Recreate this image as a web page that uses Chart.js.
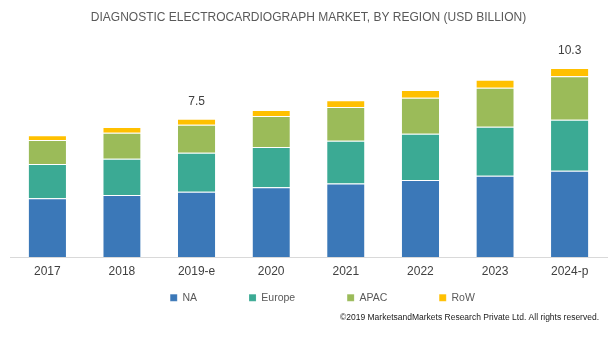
<!DOCTYPE html>
<html>
<head>
<meta charset="utf-8">
<script src="https://cdn.jsdelivr.net/npm/chart.js@4/dist/chart.umd.min.js"></script>
<style>
    html, body { margin: 0; padding: 0; background: #ffffff; }
    #wrap { width: 614px; height: 337px; }
</style>
</head>
<body>
<div id="wrap"><canvas id="market-chart" width="614" height="337"></canvas></div>
<script>
// Chart data (USD billion)
const categories = ['2017', '2018', '2019-e', '2020', '2021', '2022', '2023', '2024-p'];
const naValues = [3.18, 3.36, 3.54, 3.78, 3.98, 4.18, 4.41, 4.68];
const europeValues = [1.86, 1.97, 2.11, 2.19, 2.33, 2.51, 2.66, 2.77];
const apacValues = [1.30, 1.41, 1.52, 1.68, 1.83, 1.95, 2.11, 2.35];
const rowValues = [0.27, 0.31, 0.33, 0.33, 0.36, 0.42, 0.43, 0.45];
const totalLabels = ['', '', '7.5', '', '', '', '', '10.3'];

const chartTitle = 'DIAGNOSTIC ELECTROCARDIOGRAPH MARKET, BY REGION (USD BILLION)';
const copyrightText = '\u00a92019 MarketsandMarkets Research Private Ltd. All rights reserved.';

const fontFamily = '"Liberation Sans", Arial, sans-serif';

// Draws the totals above the stacks and the copyright line
const totalsPlugin = {
    id: 'totals',
    beforeLayout(chart) {
        // the wide label padding would also make the legend box tall, keep it short
        const legend = chart.legend;
        if (legend && !legend._shortFit) {
            const fit = legend.fit.bind(legend);
            legend.fit = function () {
                fit();
                this.height = 20;
            };
            legend._shortFit = true;
        }
    },
    afterLayout(chart) {
        // label padding also pushes the row down, pull it back up
        // (bottom is left low so the legend clip still covers the row)
        const legend = chart.legend;
        legend.top -= 46;
        legend.bottom = chart.height;
        legend.left += 14;
        legend.right += 14;
    },
    afterDraw(chart) {
        const ctx = chart.ctx;
        const yScale = chart.scales.y;
        const lastMeta = chart.getDatasetMeta(chart.data.datasets.length - 1);

        ctx.save();
        ctx.font = '12px ' + fontFamily;
        ctx.fillStyle = '#404040';
        ctx.textAlign = 'center';
        ctx.textBaseline = 'middle';
        totalLabels.forEach((label, i) => {
            if (!label) return;
            const total = naValues[i] + europeValues[i] + apacValues[i] + rowValues[i];
            const x = lastMeta.data[i].x;
            ctx.fillText(label, x, yScale.getPixelForValue(total) - 17.5);
        });

        // copyright note, bottom right
        ctx.font = '8.5px ' + fontFamily;
        ctx.fillStyle = '#1a1a1a';
        ctx.textAlign = 'right';
        ctx.fillText(copyrightText, 599, 318);
        ctx.restore();
    }
};

function makeDataset(label, values, color) {
    return {
        label: label,
        data: values,
        backgroundColor: color,
        borderColor: 'rgba(255, 255, 255, 0.45)',
        borderWidth: { top: 1, left: 0, right: 0, bottom: 0 },
        borderSkipped: false,
        categoryPercentage: 1.0,
        barPercentage: 0.5
    };
}

const ctx = document.getElementById('market-chart').getContext('2d');

const marketChart = new Chart(ctx, {
    type: 'bar',
    data: {
        labels: categories,
        datasets: [
            makeDataset('NA', naValues, '#3b78b8'),
            makeDataset('Europe', europeValues, '#3baa94'),
            makeDataset('APAC', apacValues, '#9bbb59'),
            makeDataset('RoW', rowValues, '#ffc000')
        ]
    },
    options: {
        responsive: false,
        animation: false,
        devicePixelRatio: 1,
        layout: {
            padding: { left: 10, right: 7, top: 0, bottom: 30.6 }
        },
        plugins: {
            title: {
                display: true,
                text: chartTitle,
                color: '#595959',
                font: { family: fontFamily, size: 12, weight: 'normal' },
                padding: { top: 10, bottom: 29.8 }
            },
            legend: {
                display: true,
                position: 'bottom',
                labels: {
                    boxWidth: 7,
                    boxHeight: 7,
                    padding: 52,
                    color: '#595959',
                    font: { family: fontFamily, size: 10.5 }
                }
            },
            tooltip: { enabled: false }
        },
        scales: {
            x: {
                stacked: true,
                grid: { display: false, drawTicks: false },
                border: { display: true, color: '#d9d9d9', width: 1 },
                ticks: {
                    color: '#404040',
                    padding: 7.5,
                    font: { family: fontFamily, size: 12 }
                }
            },
            y: {
                stacked: true,
                display: false,
                min: 0,
                max: 11
            }
        }
    },
    plugins: [totalsPlugin]
});
</script>
</body>
</html>
